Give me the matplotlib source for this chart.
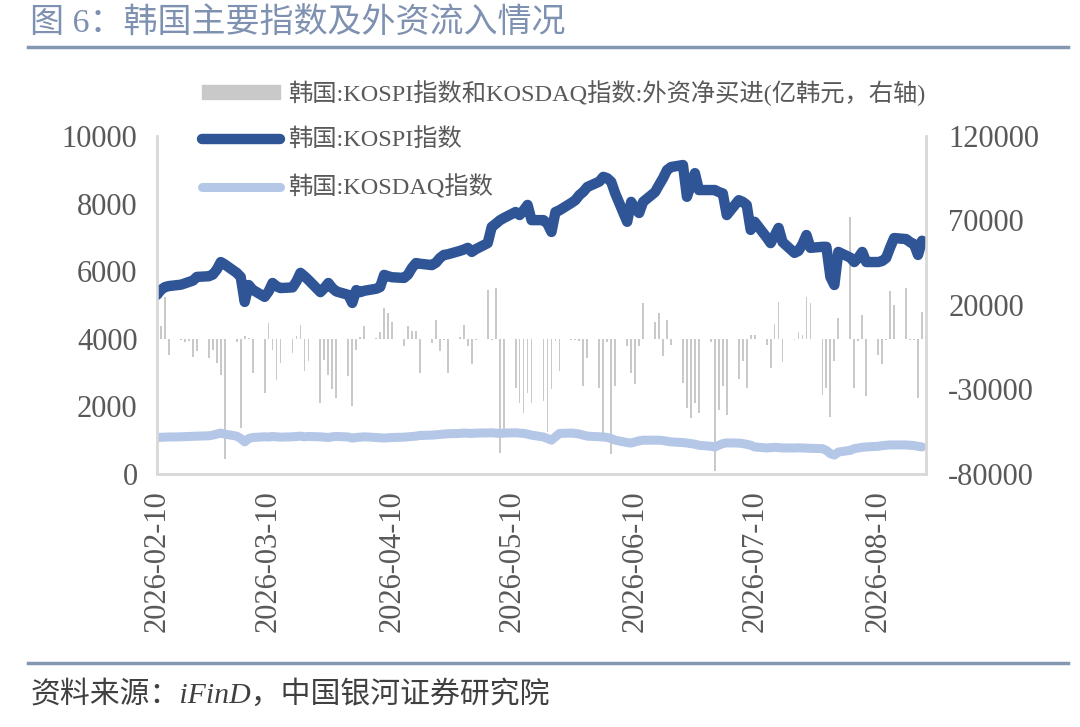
import pandas as pd
import numpy as np
import matplotlib.pyplot as plt
from matplotlib.lines import Line2D
from matplotlib.patches import Patch

plt.rcParams['font.family'] = ['Liberation Serif', 'Noto Sans CJK SC', 'DejaVu Sans']
plt.rcParams['axes.unicode_minus'] = False

# trading days, one row per week
dates = pd.bdate_range('2026-02-10', '2026-08-21')

kospi = [5300, 5450, 5530, 5560,
         5600, 5640, 5680, 5720, 5830,
         5850, 5900, 6050, 6270, 6200,
         5950, 5830, 5090, 5590, 5450,
         5240, 5400, 5650, 5550, 5500,
         5520, 5700, 5950, 5850, 5740,
         5380, 5500, 5650, 5500, 5400,
         5300, 5060, 5440, 5380, 5420,
         5480, 5530, 5890, 5850, 5820,
         5800, 5900, 6100, 6240, 6220,
         6180, 6250, 6390, 6480, 6500,
         6600, 6640, 6690, 6570, 6650,
         6830, 7310, 7400, 7500, 7570,
         7750, 7660, 7800, 7960, 7510,
         7510, 7400, 7160, 7750, 7800,
         8020, 8100, 8250, 8350, 8490,
         8650, 8790, 8750, 8640, 8300,
         7460, 8050, 7850, 7720, 8050,
         8340, 8550, 8750, 8990, 9080,
         9140, 8200, 8550, 8900, 8400,
         8400, 8400, 8340, 8300, 7660,
         8100, 8050, 7960, 7220, 7460,
         7000, 6830, 7050, 7280, 6860,
         6540, 6600, 6800, 7070, 6690,
         6720, 6720, 5830, 5590, 6570,
         6400, 6270, 6400, 6570, 6270,
         6270, 6300, 6390, 6700, 6980,
         6950, 6860, 6800, 6480, 6900]

kosdaq = [1080, 1085, 1090, 1095,
          1100, 1105, 1110, 1115, 1120,
          1130, 1150, 1180, 1210, 1180,
          1120, 1050, 950, 1050, 1080,
          1100, 1095, 1110, 1100, 1090,
          1100, 1110, 1120, 1100, 1110,
          1100, 1090, 1080, 1100, 1110,
          1095, 1060, 1080, 1090, 1100,
          1080, 1070, 1065, 1070, 1080,
          1090, 1100, 1110, 1120, 1140,
          1150, 1160, 1170, 1180, 1190,
          1200, 1210, 1205, 1200, 1210,
          1215, 1220, 1210, 1200, 1210,
          1220, 1210, 1200, 1180, 1150,
          1095, 1050, 1000, 1100, 1200,
          1210, 1200, 1180, 1150, 1120,
          1100, 1095, 1080, 1050, 1000,
          930, 915, 950, 980, 1000,
          1000, 1000, 990, 970, 950,
          930, 915, 900, 880, 850,
          820, 800, 850, 900, 920,
          915, 900, 880, 850, 800,
          770, 780, 790, 780, 770,
          770, 775, 770, 765, 760,
          750, 700, 600, 560, 650,
          700, 750, 770, 790, 800,
          820, 840, 850, 860, 860,
          860, 850, 840, 820, 800]

flows = [3000, 7500, 25000, -9500,
         -1000, -2000, -1500, -10500, -7500,
         -11500, -6500, -14500, -21500, -71000,
         -2000, -52800, 1500, 500, -20000,
         -32000, 9500, -6500, -24500, -14500,
         -8500, 1400, 8300, -19300, -13400,
         -38000, -12400, -21300, -30000, -35000,
         -22000, -40000, -6500, 1000, 7300,
         500, 4300, 18000, 15000, 10000,
         -4500, 7300, 4400, 4400, -20000,
         -2600, 11000, -7500, -500, -20000,
         1000, 8300, -4500, -15000, -1000,
         29000, -500, 30000, -67600, -55000,
         -29000, -38000, -44000, -32000, -38000,
         -37000, -55000, -30000, -1600, -19000,
         -500, -1000, -1600, -28000, -11400,
         -29000, -58000, -2000, -68000, -28000,
         -4500, -20000, -27000, -4500, 21000,
         10000, 15000, -10400, 11000, -3500,
         -26000, -41000, -47000, -38000, -44000,
         -2000, -78000, -42000, -28000, -45000,
         -24000, -13000, -29000, 2400, 2000,
         -3500, -17000, 9000, 22000, -14000,
         -1000, 4300, 2000, 25000, 21000,
         -33000, -29000, -46000, -13000, 12000,
         72000, -29000, -1600, 14000, -34000,
         -9500, -15000, -500, 28000, 20000,
         30000, -1000, -500, -35000, 16000]

tick_dates = pd.to_datetime(['2026-02-10', '2026-03-10', '2026-04-10', '2026-05-10',
                             '2026-06-10', '2026-07-10', '2026-08-10'])

kospi_c = '#2F5597'
kosdaq_c = '#B4C7E7'
bar_c = '#C9C9C9'
txt_c = '#595959'
spine_c = '#D9D9D9'

fig = plt.figure(figsize=(10.8, 7.27), dpi=100)
ax = fig.add_axes([0.1454, 0.348, 0.712, 0.465])
ax2 = ax.twinx()

ax2.bar(dates, flows, width=0.45, color=bar_c, linewidth=0)
ax.plot(dates, kosdaq, color=kosdaq_c, lw=6.5, solid_capstyle='round', solid_joinstyle='round')
ax.plot(dates, kospi, color=kospi_c, lw=7.5, solid_capstyle='round', solid_joinstyle='round')

ax.set_zorder(ax2.get_zorder() + 1)
ax.patch.set_visible(False)

ax.set_ylim(0, 10000)
ax.set_yticks(range(0, 10001, 2000))
ax2.set_ylim(-80000, 120000)
ax2.set_yticks([-80000, -30000, 20000, 70000, 120000])
ax.set_xlim(dates[0], dates[-1] + pd.Timedelta(days=1))
ax.set_xticks(tick_dates)
ax.set_xticklabels([d.strftime('%Y-%m-%d') for d in tick_dates], rotation=90)

for a in (ax, ax2):
    a.tick_params(length=0, labelsize=22, colors=txt_c)
    a.spines['top'].set_visible(False)
    for s in ('left', 'right', 'bottom'):
        a.spines[s].set_color(spine_c)
        a.spines[s].set_linewidth(1.8)
ax.tick_params(axis='x', pad=12)
ax.tick_params(axis='y', pad=14)
ax2.tick_params(axis='y', pad=16)

handles = [Patch(color=bar_c),
           Line2D([], [], color=kospi_c, lw=7.5, solid_capstyle='round'),
           Line2D([], [], color=kosdaq_c, lw=6.5, solid_capstyle='round')]
labels = ['韩国:KOSPI指数和KOSDAQ指数:外资净买进(亿韩元，右轴)',
          '韩国:KOSPI指数', '韩国:KOSDAQ指数']
fig.legend(handles, labels, loc='upper left', bbox_to_anchor=(0.167, 0.92),
           frameon=False, fontsize=17.5, handlelength=3.2, handleheight=0.5,
           handletextpad=0.35, labelspacing=0.95, labelcolor=txt_c)

fig.text(0.028, 0.968, '图 6：韩国主要指数及外资流入情况', fontsize=24.5,
         color='#7F91B0', va='center', ha='left')
fig.add_artist(Line2D([0.026, 0.989], [1 - 47 / 727] * 2, color='#8497B0', lw=2.5))
fig.add_artist(Line2D([0.026, 0.989], [1 - 663 / 727] * 2, color='#8497B0', lw=2.5))
fig.text(0.028, 1 - 695 / 727, '资料来源：iFinD，中国银河证券研究院', fontsize=21.5,
         style='italic', color='#404040', va='center', ha='left')

fig.savefig('out.png', dpi=100)
